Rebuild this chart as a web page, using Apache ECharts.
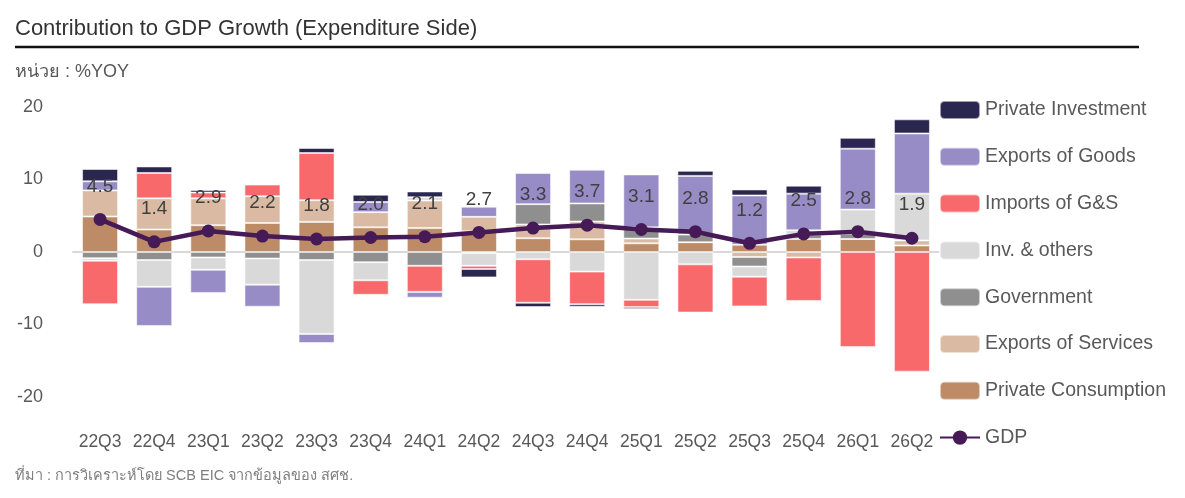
<!DOCTYPE html>
<html>
<head>
<meta charset="utf-8">
<title>Contribution to GDP Growth</title>
<script src="https://cdn.jsdelivr.net/npm/echarts@6/dist/echarts.min.js"></script>
<style>
	html, body { margin: 0; padding: 0; background: #ffffff; }
	#main { width: 1185px; height: 498px; }
</style>
</head>
<body>
<div id="main"></div>
<script>
// 横轴季度
var categories = ['22Q3', '22Q4', '23Q1', '23Q2', '23Q3', '23Q4', '24Q1', '24Q2',
	'24Q3', '24Q4', '25Q1', '25Q2', '25Q3', '25Q4', '26Q1', '26Q2'];

// 各项贡献 (%YOY)
var privateConsumption = [4.9, 3.1, 3.7, 4.0, 4.15, 3.4, 3.3, 2.85, 1.9, 1.75, 1.2, 1.35, 1.0, 1.8, 1.8, 0.9];
var exportsServices = [3.6, 4.3, 3.7, 3.7, 3.0, 2.1, 3.8, 2.0, 1.9, 2.45, 0.65, 0, -0.7, -0.75, 0, 0.7];
var government = [-0.85, -1.1, -0.75, -0.9, -1.1, -1.4, -1.9, -0.15, 2.8, 2.5, 1.55, 1.05, -1.3, 0.6, 0.7, 0];
var invOthers = [-0.35, -3.7, -1.7, -3.6, -10.2, -2.5, 0.45, -1.75, -1.0, -2.7, -6.6, -1.7, -1.4, 0.6, 3.35, 6.45];
var importsGS = [-6.0, 3.5, 0.8, 1.6, 6.5, -2.0, -3.6, -0.45, -6.0, -4.5, -1.0, -6.65, -4.1, -6.0, -13.1, -16.5];
var exportsGoods = [1.25, -5.4, -3.2, -3.05, -1.25, 1.4, -0.8, 1.4, 4.3, 4.65, 7.3, 8.1, 6.8, 5.05, 8.4, 8.3];
var privateInvestment = [1.7, 0.9, 0.35, 0.15, 0.7, 1.0, 0.8, -1.15, -0.6, -0.35, -0.25, 0.7, 0.83, 1.1, 1.5, 1.95];
var gdp = [4.5, 1.4, 2.9, 2.2, 1.8, 2.0, 2.1, 2.7, 3.3, 3.7, 3.1, 2.8, 1.2, 2.5, 2.8, 1.9];

// 纵轴刻度
var yTicks = [-20, -10, 0, 10, 20];

// 堆叠顺序：从零线往外
var stackNames = ['Private Consumption', 'Exports of Services', 'Government', 'Inv. & others',
	'Imports of G&S', 'Exports of Goods', 'Private Investment'];
var stackData = [privateConsumption, exportsServices, government, invOthers,
	importsGS, exportsGoods, privateInvestment];
var stackColors = ['#bd8b65', '#dbbaa3', '#8f8f8f', '#d9d9d9', '#f8696b', '#978cc6', '#2b264f'];

var fontFamily = '"Liberation Sans", Arial, "Noto Sans", sans-serif';
var textColor = '#595959';

/**
 * 堆叠柱形图 + GDP 折线
 */
function stackEcharts() {
	var myChart = echarts.init(document.getElementById('main'));

	var seriesList = [];
	stackData.forEach(function(element, index) {
		seriesList.push({
			name: stackNames[index],
			type: 'bar',
			stack: 'gdp',
			barWidth: 36,
			data: element,
			itemStyle: {
				color: stackColors[index],
				borderColor: 'rgba(255, 255, 255, 0.55)',
				borderWidth: 1
			},
			emphasis: { disabled: true }
		});
	});
	seriesList.push({
		name: 'GDP',
		type: 'line',
		data: gdp,
		z: 5,
		symbol: 'circle',
		symbolSize: 13,
		lineStyle: { color: '#461a56', width: 4.5 },
		itemStyle: { color: '#461a56' },
		label: {
			show: true,
			position: 'top',
			distance: 17,
			fontFamily: fontFamily,
			fontSize: 19,
			color: '#404040',
			formatter: function(p) {
				return p.value.toFixed(1);
			}
		}
	});

	var option = {
		backgroundColor: '#ffffff',
		animation: false,
		textStyle: { fontFamily: fontFamily },
		title: [{
			text: 'Contribution to GDP Growth (Expenditure Side)',
			left: 10,
			top: 13,
			textStyle: { fontSize: 22, fontWeight: 'normal', color: '#333333', fontFamily: fontFamily }
		}, {
			text: 'หน่วย : %YOY',
			left: 10,
			top: 58,
			textStyle: { fontSize: 18, fontWeight: 'normal', color: '#595959', fontFamily: fontFamily }
		}, {
			text: 'ที่มา : การวิเคราะห์โดย SCB EIC จากข้อมูลของ สศช.',
			left: 10,
			top: 463,
			textStyle: { fontSize: 14.5, fontWeight: 'normal', color: '#7f7f7f', fontFamily: fontFamily }
		}],
		graphic: [{
			type: 'line',
			shape: { x1: 15, y1: 47, x2: 1139, y2: 47 },
			style: { stroke: '#111111', lineWidth: 2.5 }
		}],
		legend: {
			orient: 'vertical',
			left: 939,
			top: 100,
			padding: 0,
			itemWidth: 40,
			itemHeight: 18,
			itemGap: 26.8,
			textStyle: { fontSize: 19.5, color: textColor, fontFamily: fontFamily },
			data: ['Private Investment', 'Exports of Goods', 'Imports of G&S', 'Inv. & others',
				'Government', 'Exports of Services', 'Private Consumption', 'GDP']
		},
		grid: {
			left: 73,
			top: 107,
			width: 866,
			height: 290
		},
		xAxis: [{
			type: 'category',
			data: categories,
			axisLine: { onZero: true, lineStyle: { color: '#d9d9d9', width: 2 } },
			axisTick: { show: false },
			axisLabel: { show: false }
		}, {
			type: 'category',
			data: categories,
			position: 'bottom',
			axisLine: { show: false, onZero: false },
			axisTick: { show: false },
			axisLabel: { interval: 0, margin: 36, fontSize: 17.5, color: textColor, fontFamily: fontFamily }
		}],
		yAxis: {
			type: 'value',
			min: yTicks[0],
			max: yTicks[yTicks.length - 1],
			interval: 10,
			splitLine: { show: false },
			axisLine: { show: false },
			axisTick: { show: false },
			axisLabel: { margin: 30, fontSize: 18, color: textColor, fontFamily: fontFamily }
		},
		series: seriesList
	};

	myChart.setOption(option);
}

stackEcharts();
</script>
</body>
</html>
